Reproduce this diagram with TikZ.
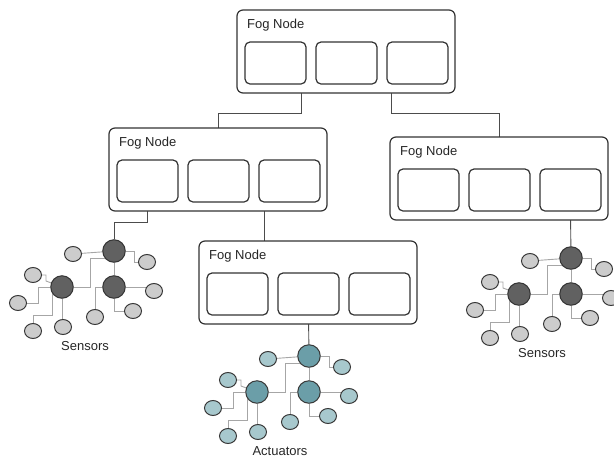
\documentclass[tikz,border=0pt]{standalone}
\usepackage{fontspec}
\setmainfont{Liberation Sans}
\usetikzlibrary{shapes.geometric,backgrounds}

\definecolor{actHub}{HTML}{6B9EA8}
\definecolor{actLeaf}{HTML}{A7C8CD}

\tikzset{
  fogbox/.style={draw=black!80, line width=1.2pt, rounded corners=6pt, fill=white,
    inner sep=0pt, outer sep=0pt, minimum width=218pt, minimum height=83pt},
  slotbox/.style={draw=black!80, line width=1.2pt, rounded corners=5pt, fill=white,
    inner sep=0pt, outer sep=0pt, minimum width=61pt, minimum height=42pt},
  foglabel/.style={font=\fontsize{13}{15}\selectfont, text=black!85, inner sep=0pt},
  link/.style={draw=black!70, line width=0.9pt},
  wire/.style={draw=black!35, line width=0.9pt},
  sensorhub/.style={circle, fill=black!62, draw=black!80, line width=1pt,
    inner sep=0pt, minimum size=22.5pt},
  sensorleaf/.style={ellipse, fill=black!20, draw=black!78, line width=1pt,
    inner sep=0pt, minimum width=17pt, minimum height=15pt},
  actuatorhub/.style={circle, fill=actHub, draw=black!78, line width=1pt,
    inner sep=0pt, minimum size=22.5pt},
  actuatorleaf/.style={ellipse, fill=actLeaf, draw=black!78, line width=1pt,
    inner sep=0pt, minimum width=17pt, minimum height=15pt},
  grouplabel/.style={font=\fontsize{13}{15}\selectfont, text=black!85, inner sep=0pt}
}

% A fog node: outer box with title and three slots; #2,#3 = top-left corner
\newcommand\fogunit[3]{%
  \node[fogbox, anchor=north west] (#1) at (#2,#3) {};
  \node[foglabel, anchor=west] (#1-t) at (#2+10,#3+15) {Fog Node};
  \node[slotbox, anchor=north west] (#1-1) at (#2+8,#3+32) {};
  \node[slotbox, anchor=north west] (#1-2) at (#2+79,#3+32) {};
  \node[slotbox, anchor=north west] (#1-3) at (#2+150,#3+32) {};
}

% A device cluster: three hubs and nine leaves; #2,#3 = top hub position
\newcommand\devcluster[6]{%
  \begin{scope}[shift={(#2,#3)}]
    \node[#4] (#1A) at (0,0) {};
    \node[#4] (#1B) at (-52,36) {};
    \node[#4] (#1C) at (0,36) {};
    \node[#5] (#1s1) at (-41,3) {};
    \node[#5] (#1s2) at (33,11) {};
    \node[#5] (#1s3) at (-81,24) {};
    \node[#5] (#1s4) at (40,40) {};
    \node[#5] (#1s5) at (-96,52) {};
    \node[#5] (#1s6) at (19,60) {};
    \node[#5] (#1s7) at (-19,66) {};
    \node[#5] (#1s8) at (-81,80) {};
    \node[#5] (#1s9) at (-51,76) {};
    \node[grouplabel] (#1lab) at (-29,95) {#6};
    \begin{pgfonlayer}{background}
      \draw[wire] (#1A) -- (#1s1);
      \draw[wire] (#1A) -- ++(20,0) |- (#1s2);
      \draw[wire] (#1A) -- (#1C);
      \draw[wire] (#1A) ++(0,7) -- ++(-24,0) |- (#1B);
      \draw[wire] (#1s3) -- ++(13,0) -- ++(0,6) -- (#1B);
      \draw[wire] (#1s5) -| ([xshift=-24pt]#1B.center) -- (#1B);
      \draw[wire] (#1s8) |- ([xshift=-10pt,yshift=-28pt]#1B.center) -- ([xshift=-10pt]#1B.center);
      \draw[wire] (#1B) -- (#1B |- #1s9);
      \draw[wire] (#1C) -- (#1C -| #1s4);
      \draw[wire] (#1C) |- (#1s6);
      \draw[wire] (#1C) -| (#1s7);
    \end{pgfonlayer}
  \end{scope}
}

\begin{document}
\begin{tikzpicture}[x=1pt, y=-1pt]
  \useasboundingbox (0,0) rectangle (614,459);

  % fog hierarchy
  \fogunit{top}{237}{10}
  \fogunit{ml}{109}{128}
  \fogunit{rt}{390}{137}
  \fogunit{mid}{199}{241}

  % edge devices
  \devcluster{L}{114}{251}{sensorhub}{sensorleaf}{Sensors}
  \devcluster{R}{571}{258}{sensorhub}{sensorleaf}{Sensors}
  \devcluster{M}{309}{356}{actuatorhub}{actuatorleaf}{Actuators}

  % bend points of the fog links
  \coordinate (j1) at (301,113);
  \coordinate (j2) at (391,113);
  \coordinate (j3) at (114,222);
  \coordinate (j4) at (264,230);

  \begin{pgfonlayer}{background}
    \draw[link] (top.south -| j1) -- (j1) -| (ml.north);
    \draw[link] (top.south -| j2) -- (j2) -| (rt.north);
    \draw[link] (ml-1.south) |- (j3) -- (LA);
    \draw[link] (ml.south -| j4) -- (mid.north -| j4);
    \draw[link] (mid-2.south) -- (MA);
    \draw[link] (rt-3.south) -- (RA);
  \end{pgfonlayer}
\end{tikzpicture}
\end{document}
